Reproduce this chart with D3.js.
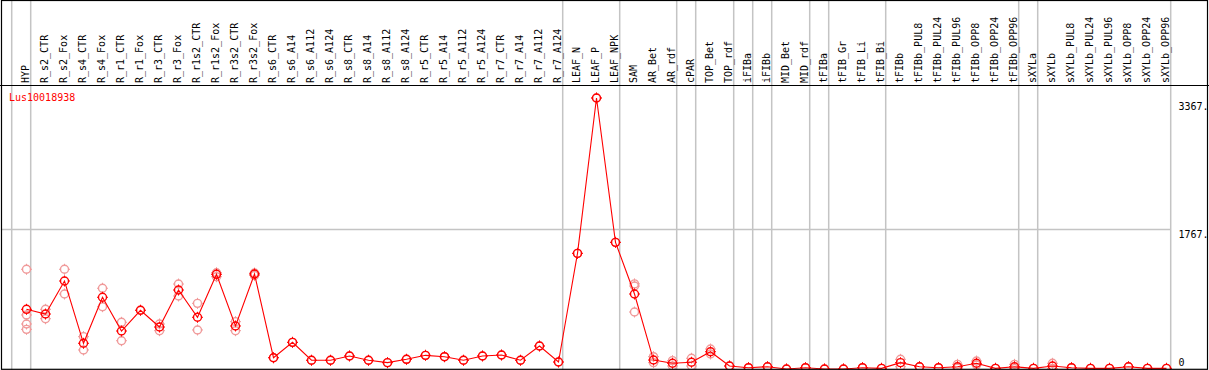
<!DOCTYPE html>
<html>
<head>
<meta charset="utf-8">
<script src="https://cdn.jsdelivr.net/npm/d3@7"></script>
<style>
  html, body { margin: 0; padding: 0; background: #fff; }
  svg { display: block; }
  text { font-family: "DejaVu Sans Mono", "Liberation Mono", monospace; font-size: 10px; }
</style>
</head>
<body>
<svg id="chart" width="1209" height="370"></svg>
<script>
// ---- data ----
const categories = ["HYP","R_s2_CTR","R_s2_Fox","R_s4_CTR","R_s4_Fox","R_r1_CTR","R_r1_Fox","R_r3_CTR","R_r3_Fox",
  "R_r1s2_CTR","R_r1s2_Fox","R_r3s2_CTR","R_r3s2_Fox","R_s6_CTR","R_s6_A14","R_s6_A112","R_s6_A124",
  "R_s8_CTR","R_s8_A14","R_s8_A112","R_s8_A124","R_r5_CTR","R_r5_A14","R_r5_A112","R_r5_A124",
  "R_r7_CTR","R_r7_A14","R_r7_A112","R_r7_A124","LEAF_N","LEAF_P","LEAF_NPK","SAM","AR_Bet","AR_rdf",
  "cPAR","TOP_Bet","TOP_rdf","iFIBa","iFIBb","MID_Bet","MID_rdf","tFIBa","tFIB_Gr","tFIB_Li","tFIB_Bi",
  "tFIBb","tFIBb_PUL8","tFIBb_PUL24","tFIBb_PUL96","tFIBb_OPP8","tFIBb_OPP24","tFIBb_OPP96",
  "sXYLa","sXYLb","sXYLb_PUL8","sXYLb_PUL24","sXYLb_PUL96","sXYLb_OPP8","sXYLb_OPP24","sXYLb_OPP96"];

const means = [761,702,1116,335,912,489,749,539,1003,661,1200,552,1204,154,347,122,122,
  176,122,92,134,184,167,122,176,188,122,301,100,1463,3411,1601,953,125,84,
  97,229,50,29,41,13,29,13,13,29,21,
  92,41,29,41,84,21,41,
  21,50,29,21,21,41,21,21];

const replicates = [
  [1263,690,577,510],[761,643],[1263,953],[418,251],[1025,794],[598,367],[749],[577,493],[1078,928],
  [836,502],[1220,1170],[606,493],[1216,1185],[154],[347],[122],[122],
  [176],[122],[92],[134],[184],[167],[122],[176],
  [188],[122],[301],[100],[1463],[3411],[1601],[1053,1080,727],[167,92],[117,50],
  [147,50],[263,201],[50],[29],[41],[13],[29],[13],[13],[29],[21],
  [134,41],[41],[29],[71,25],[113,63],[21],[71,19],
  [21],[84,19],[29],[21],[21],[41],[21],[21]
];

const geneName = "Lus10018938";
const groupEnds = ["HYP","R_r7_A124","LEAF_NPK","AR_rdf","cPAR","TOP_rdf","iFIBa","iFIBb","MID_rdf","tFIBa","tFIB_Bi","tFIBb_OPP96","sXYLa","sXYLb_OPP96"];
const yTicks = [0, 1767, 3367];
const yTickLabels = ["0", "1767.", "3367."];
const gridValues = [1767];

// ---- drawing ----
const svg = d3.select("#chart");
const W = 1209, H = 370;
const headerY = 85.5;

const x = d3.scalePoint().domain(categories).range([26.5, 1166.5]);
const step = x.step();
const y = d3.scaleLinear().domain([0, 3367]).range([370, 101.5]);

const gray = "#c4c4c4";

// vertical group separators
const sepX = [x(categories[0]) - step + 4.2].concat(groupEnds.map(c => x(c) + 4.2));
svg.append("g").selectAll("line").data(sepX).join("line")
  .attr("x1", d => d).attr("x2", d => d)
  .attr("y1", 0).attr("y2", H)
  .attr("stroke", gray).attr("stroke-width", 1.5);

// horizontal grid
svg.append("g").selectAll("line").data(gridValues).join("line")
  .attr("x1", 1).attr("x2", sepX[sepX.length - 1])
  .attr("y1", d => Math.round(y(d)) + 0.5).attr("y2", d => Math.round(y(d)) + 0.5)
  .attr("stroke", gray).attr("stroke-width", 1.5);

// header labels (rotated)
svg.append("g").selectAll("text").data(categories).join("text")
  .attr("transform", d => `translate(${x(d) - 1},83) rotate(-90)`)
  .attr("dy", "0.35em")
  .attr("text-anchor", "start")
  .attr("fill", "#000")
  .text(d => d);

// header divider
svg.append("line").attr("x1", 0).attr("x2", W).attr("y1", headerY).attr("y2", headerY)
  .attr("stroke", "#000").attr("stroke-width", 1.2);

// gene name
svg.append("text").attr("x", 9).attr("y", 101).attr("fill", "#ff0000").text(geneName);

// y tick labels
svg.append("g").selectAll("text").data(yTicks).join("text")
  .attr("x", 1178.5)
  .attr("y", d => y(d))
  .attr("dy", d => d === 0 ? "-0.45em" : "0.85em")
  .attr("fill", "#000")
  .text((d, i) => yTickLabels[i]);

// plot clip
svg.append("clipPath").attr("id", "plotclip").append("rect")
  .attr("x", 2).attr("y", headerY + 1).attr("width", W - 4).attr("height", H - headerY - 1.5);

const plot = svg.append("g").attr("clip-path", "url(#plotclip)");

function marker(g, cx, cy, color) {
  const r = 4;
  g.append("circle").attr("cx", cx).attr("cy", cy).attr("r", r)
    .attr("fill", "none").attr("stroke", color).attr("stroke-width", 1.4);
  const t = [[0, -1], [0, 1], [-1, 0], [1, 0]];
  t.forEach(([dx, dy]) => {
    g.append("line")
      .attr("x1", cx + dx * (r - 0.5)).attr("y1", cy + dy * (r - 0.5))
      .attr("x2", cx + dx * (r + 1.5)).attr("y2", cy + dy * (r + 1.5))
      .attr("stroke", color).attr("stroke-width", 1);
  });
}

// replicate markers
const repG = plot.append("g");
categories.forEach((c, i) => {
  replicates[i].forEach(v => marker(repG, x(c), y(v), "#f09a9a"));
});

// mean line
plot.append("path")
  .datum(means)
  .attr("fill", "none").attr("stroke", "#ff0000").attr("stroke-width", 1.1)
  .attr("d", d3.line().x((d, i) => x(categories[i])).y(d => y(d)));

// mean markers
const meanG = plot.append("g");
categories.forEach((c, i) => marker(meanG, x(c), y(means[i]), "#ff0000"));

// outer border
svg.append("rect").attr("x", 1.5).attr("y", 0.5).attr("width", 1206).attr("height", 368.8)
  .attr("fill", "none").attr("stroke", "#000").attr("stroke-width", 1.2);
</script>
</body>
</html>
